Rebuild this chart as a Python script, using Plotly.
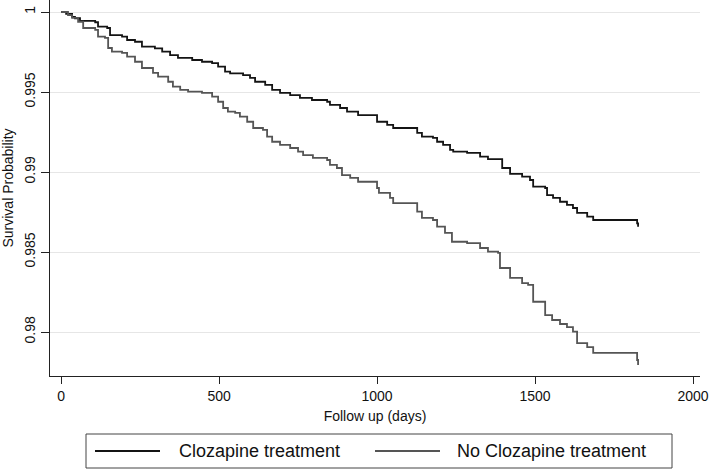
import plotly.graph_objects as go

# Kaplan-Meier estimates
cloz_days = [0, 16, 35, 44, 60, 108, 117, 146, 155, 193, 209, 234, 256, 297, 320, 345, 370,
             415, 446, 478, 497, 519, 535, 576, 598, 614, 646, 668, 693, 725, 756, 794, 842,
             851, 883, 905, 940, 1000, 1032, 1051, 1127, 1142, 1177, 1190, 1209, 1231, 1241,
             1285, 1326, 1351, 1396, 1421, 1459, 1484, 1494, 1532, 1538, 1557, 1579, 1601,
             1620, 1633, 1665, 1684, 1823, 1826]
cloz_surv = [1.0, 0.99988, 0.99969, 0.99961, 0.99944, 0.99936, 0.99908, 0.99900, 0.99856,
             0.99846, 0.99825, 0.99814, 0.99783, 0.99773, 0.99752, 0.99731, 0.99713, 0.99700,
             0.99689, 0.99681, 0.99658, 0.99627, 0.99617, 0.99606, 0.99588, 0.99564, 0.99544,
             0.99513, 0.99494, 0.99481, 0.99463, 0.99450, 0.99439, 0.99419, 0.99400, 0.99377,
             0.99356, 0.99314, 0.99294, 0.99275, 0.99244, 0.99221, 0.99213, 0.99189, 0.99169,
             0.99138, 0.99127, 0.99119, 0.99096, 0.99081, 0.99025, 0.98988, 0.98971, 0.98950,
             0.98908, 0.98900, 0.98856, 0.98838, 0.98814, 0.98794, 0.98775, 0.98744, 0.98721,
             0.98700, 0.98679, 0.98658]

noclz_days = [0, 22, 35, 54, 70, 108, 117, 139, 149, 161, 193, 209, 234, 256, 291, 307, 339,
              354, 377, 402, 446, 478, 497, 513, 528, 551, 566, 589, 608, 639, 652, 668, 693,
              725, 750, 766, 797, 842, 851, 873, 889, 915, 940, 1000, 1006, 1041, 1051, 1127,
              1142, 1177, 1190, 1215, 1237, 1285, 1326, 1351, 1383, 1389, 1421, 1459, 1478,
              1494, 1532, 1554, 1579, 1601, 1620, 1633, 1665, 1684, 1823, 1826]
noclz_surv = [1.0, 0.99981, 0.99963, 0.99939, 0.99900, 0.99888, 0.99846, 0.99838, 0.99775,
              0.99752, 0.99744, 0.99721, 0.99689, 0.99650, 0.99619, 0.99596, 0.99564, 0.99533,
              0.99513, 0.99502, 0.99494, 0.99471, 0.99439, 0.99400, 0.99377, 0.99369, 0.99346,
              0.99314, 0.99275, 0.99263, 0.99221, 0.99189, 0.99169, 0.99150, 0.99127, 0.99106,
              0.99088, 0.99075, 0.99044, 0.99025, 0.98981, 0.98963, 0.98939, 0.98900, 0.98869,
              0.98838, 0.98806, 0.98752, 0.98713, 0.98700, 0.98658, 0.98619, 0.98564, 0.98556,
              0.98525, 0.98502, 0.98494, 0.98400, 0.98338, 0.98306, 0.98294, 0.98189, 0.98106,
              0.98075, 0.98050, 0.98031, 0.98002, 0.97931, 0.97906, 0.97869, 0.97825, 0.97794]

series_names = ["Clozapine treatment", "No Clozapine treatment"]
series_colors = ["#141414", "#555555"]

y_tickvals = [0.98, 0.985, 0.99, 0.995, 1.0]
y_ticktext = ["0.98", "0.985", "0.99", "0.995", "1"]
x_tickvals = [0, 500, 1000, 1500, 2000]

FONT = "Liberation Sans, Arial, sans-serif"
W, H = 709, 472
ML, MR, MT, MB = 50, 9, 0, 96
PW, PH = W - ML - MR, H - MT - MB


def px_to_paper(px, py):
    return (px - ML) / PW, (H - MB - py) / PH


fig = go.Figure()
for xs, ys, name, col in [(cloz_days, cloz_surv, series_names[0], series_colors[0]),
                          (noclz_days, noclz_surv, series_names[1], series_colors[1])]:
    fig.add_trace(go.Scatter(x=xs, y=ys, mode="lines", line_shape="hv", name=name,
                             showlegend=False, line=dict(color=col, width=1.8)))

# legend drawn as a framed box below the plot
shapes = []
annotations = []
bx0, by0 = px_to_paper(86, 434)
bx1, by1 = px_to_paper(672, 468)
shapes.append(dict(type="rect", xref="paper", yref="paper", x0=bx0, x1=bx1, y0=by0, y1=by1,
                   line=dict(color="#444", width=1), fillcolor="white", layer="below"))
legend_items = [(95, 160, 177), (375, 440, 455)]
for (lx0, lx1, tx), name, col in zip(legend_items, series_names, series_colors):
    x0, yc = px_to_paper(lx0, 451)
    x1, _ = px_to_paper(lx1, 451)
    shapes.append(dict(type="line", xref="paper", yref="paper", x0=x0, x1=x1, y0=yc, y1=yc,
                       line=dict(color=col, width=1.8)))
    xt, _ = px_to_paper(tx, 451)
    annotations.append(dict(xref="paper", yref="paper", x=xt, y=yc, text=name,
                            showarrow=False, xanchor="left", yanchor="middle",
                            font=dict(size=18, color="#111")))

fig.update_layout(
    width=W, height=H,
    margin=dict(l=ML, r=MR, t=MT, b=MB),
    paper_bgcolor="white", plot_bgcolor="white",
    font=dict(family=FONT, size=14, color="#111"),
    showlegend=False,
    shapes=shapes, annotations=annotations,
)
fig.update_xaxes(range=[-35, 2022], tickvals=x_tickvals, ticks="outside", ticklen=7,
                 tickcolor="#222", showline=True, linecolor="#222", linewidth=1.2,
                 showgrid=False, zeroline=False, automargin=False,
                 tickfont=dict(size=14),
                 title=dict(text="Follow up (days)", standoff=8, font=dict(size=14)))
fig.update_yaxes(range=[0.97725, 1.00075], tickvals=y_tickvals, ticktext=y_ticktext,
                 tickangle=-90, ticks="outside", ticklen=8, tickcolor="#222",
                 showline=True, linecolor="#222", linewidth=1.2, automargin=False,
                 showgrid=True, gridcolor="#e6e6e6", gridwidth=1, zeroline=False,
                 tickfont=dict(size=14),
                 title=dict(text="Survival Probability", standoff=5, font=dict(size=14)))

fig.write_html("out.html", config={"displayModeBar": False},
               post_script="document.body.style.margin='0';")
